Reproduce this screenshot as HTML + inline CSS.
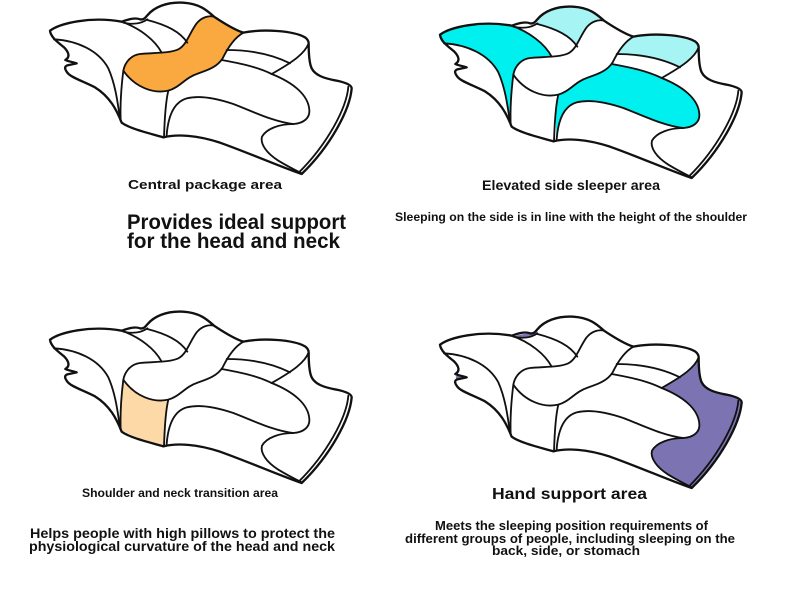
<!DOCTYPE html>
<html><head><meta charset="utf-8"><style>
html,body{margin:0;padding:0;background:#fff;}
svg{display:block;}
text{font-family:"Liberation Sans","DejaVu Sans",sans-serif;font-weight:bold;fill:#111;}
</style></head><body>
<svg width="790" height="596" viewBox="0 0 790 596" xmlns="http://www.w3.org/2000/svg">
<defs>
<path id="sil" d="M30,92 C60,70 150,48 245,65 C265,58 285,52 300,58 C310,60 316,54 322,46 C342,22 380,5 430,8 C478,11 500,30 522,50 C552,70 585,90 610,98 C670,86 760,92 795,112 C803,118 806,124 806,130 C806,160 808,190 815,205 C825,225 850,235 890,242 C918,248 935,255 935,265 C930,330 870,440 785,522 C720,500 630,460 540,428 C470,405 410,402 370,412 C320,398 268,385 245,368 C230,330 210,290 165,262 C120,240 88,230 80,215 C73,205 74,199 82,196 L110,190 C95,186 82,183 76,180 C90,172 88,158 72,142 C55,128 32,112 30,92 Z"/>
<path id="orangeP" d="M250,212 C255,185 275,165 300,162 C340,158 390,160 415,148 C440,135 448,100 470,70 C485,52 505,46 522,50 C552,70 585,90 610,98 C585,112 565,140 548,175 C532,200 505,210 475,220 C435,233 420,262 385,272 C340,282 285,262 250,212 Z"/>
<g id="lines" fill="none" stroke="#111" stroke-width="5.5" stroke-linejoin="round" stroke-linecap="round">
<path d="M42,118 C110,122 175,150 205,205 C225,250 232,300 240,355"/>
<path d="M245,65 C300,85 345,120 365,158"/>
<path d="M250,68 C275,74 302,72 322,58"/>
<path d="M322,60 C380,75 420,95 442,128"/>
<use href="#orangeP"/>
<path d="M250,212 C244,260 240,310 242,362"/>
<path d="M385,272 C378,300 374,350 372,412"/>
<path d="M545,180 C600,190 650,200 695,222 C760,248 805,285 808,330 C810,355 790,370 760,372"/>
<path d="M760,372 C700,365 640,335 580,312 C530,295 480,285 440,295 C405,305 385,340 380,405"/>
<path d="M760,372 C720,372 680,385 666,410 C660,432 680,460 715,482 C740,497 765,510 785,520"/>
<path d="M560,150 C620,150 690,160 750,190"/>
<path d="M806,130 C795,160 760,185 695,222"/>
<path d="M925,260 C920,325 860,435 776,518"/>
<use href="#sil" stroke-width="7"/>
</g>
</defs>

<!-- Pillow 1 -->
<g transform="translate(40,0) scale(0.33333)">
<use href="#sil" fill="#fff"/>
<use href="#orangeP" fill="#FAA940"/>
<use href="#lines"/>
</g>

<!-- Pillow 2 -->
<g transform="translate(430,4) scale(0.33333)">
<use href="#sil" fill="#fff"/>
<path fill="#00F0F0" d="M30,92 C60,70 150,48 245,65 C300,85 345,120 365,158 C340,160 320,161 300,162 C275,165 255,185 250,212 C244,260 240,310 242,360 C236,300 225,250 205,205 C175,150 110,122 40,118 C30,110 27,100 30,92 Z"/>
<path fill="#A6F4F4" d="M322,46 C342,22 380,5 430,8 C478,11 500,30 522,50 C505,46 485,52 470,70 C455,90 448,110 442,128 C420,95 380,75 322,62 Z"/>
<path fill="#A6F4F4" d="M610,98 C670,86 760,92 795,112 C803,118 806,124 806,130 C795,160 775,175 750,190 C690,160 620,150 560,150 C575,125 590,108 610,98 Z"/>
<path fill="#00F0F0" d="M385,272 C420,262 435,233 475,220 C505,210 532,200 545,180 C600,190 650,200 695,222 C760,248 805,285 808,330 C810,355 790,370 760,372 C700,365 640,335 580,312 C530,295 480,285 440,295 C405,305 385,340 380,405 C376,360 378,310 385,272 Z"/>
<use href="#lines"/>
</g>

<!-- Pillow 3 -->
<g transform="translate(40,309) scale(0.33333)">
<use href="#sil" fill="#fff"/>
<path fill="#FED9A8" d="M250,212 C285,262 340,282 385,272 C378,300 374,350 372,412 C330,400 280,385 242,362 C240,310 244,260 250,212 Z"/>
<use href="#lines"/>
</g>

<!-- Pillow 4 -->
<g transform="translate(430,314) scale(0.33333)">
<use href="#sil" fill="#fff"/>
<path fill="#7C74B2" d="M806,130 C806,160 808,190 815,205 C825,225 850,235 890,242 C918,248 935,255 935,265 C930,330 870,440 785,522 C765,510 740,497 715,482 C680,460 660,432 666,410 C680,385 720,372 760,372 C790,370 810,355 808,330 C805,285 760,248 695,222 C760,185 795,160 806,130 Z"/>
<path fill="#7C74B2" d="M250,68 C270,60 300,60 322,50 L322,58 C302,72 275,74 250,68 Z"/>
<path fill="#7C74B2" d="M82,184 L110,190 L82,196 C76,193 76,187 82,184 Z"/>
<use href="#lines"/>
</g>

<!-- Texts -->
<text x="128" y="189" font-size="13" textLength="154" lengthAdjust="spacingAndGlyphs">Central package area</text>
<text x="127" y="229" font-size="21" textLength="219" lengthAdjust="spacingAndGlyphs">Provides ideal support</text>
<text x="127" y="248" font-size="21" textLength="213" lengthAdjust="spacingAndGlyphs">for the head and neck</text>

<text x="482" y="190" font-size="14" textLength="178" lengthAdjust="spacingAndGlyphs">Elevated side sleeper area</text>
<text x="395" y="221" font-size="11.5" textLength="352" lengthAdjust="spacingAndGlyphs">Sleeping on the side is in line with the height of the shoulder</text>

<text x="82" y="497" font-size="11.5" textLength="196" lengthAdjust="spacingAndGlyphs">Shoulder and neck transition area</text>
<text x="30" y="538" font-size="13.5" textLength="305" lengthAdjust="spacingAndGlyphs">Helps people with high pillows to protect the</text>
<text x="29" y="551" font-size="13.5" textLength="306" lengthAdjust="spacingAndGlyphs">physiological curvature of the head and neck</text>

<text x="492" y="499" font-size="16" textLength="155" lengthAdjust="spacingAndGlyphs">Hand support area</text>
<text x="435" y="530" font-size="12.5" textLength="273" lengthAdjust="spacingAndGlyphs">Meets the sleeping position requirements of</text>
<text x="405" y="543" font-size="12.5" textLength="330" lengthAdjust="spacingAndGlyphs">different groups of people, including sleeping on the</text>
<text x="492" y="555" font-size="12.5" textLength="148" lengthAdjust="spacingAndGlyphs">back, side, or stomach</text>
</svg>
</body></html>
